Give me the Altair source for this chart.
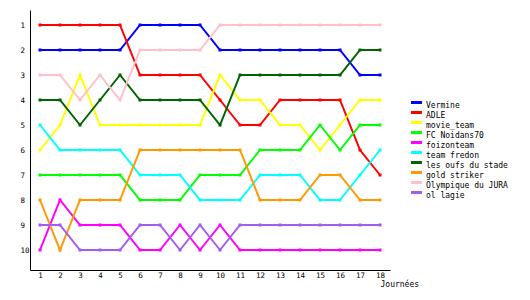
import altair as alt
import pandas as pd

days = list(range(1, 19))
teams = ["Vermine", "ADLE", "movie_team", "FC Noidans70", "foizonteam",
         "team fredon", "les oufs du stade", "gold striker", "Olympique du JURA", "ol lagie"]
colors = ["#0000FF", "#FF0000", "#FFFF00", "#00FF00", "#FF00FF",
          "#00FFFF", "#006400", "#FF9900", "#FFC0CB", "#A35CF0"]

vermine = [2, 2, 2, 2, 2, 1, 1, 1, 1, 2, 2, 2, 2, 2, 2, 2, 3, 3]
adle = [1, 1, 1, 1, 1, 3, 3, 3, 3, 4, 5, 5, 4, 4, 4, 4, 6, 7]
movie_team = [6, 5, 3, 5, 5, 5, 5, 5, 5, 3, 4, 4, 5, 5, 6, 5, 4, 4]
fc_noidans = [7, 7, 7, 7, 7, 8, 8, 8, 7, 7, 7, 6, 6, 6, 5, 6, 5, 5]
foizonteam = [10, 8, 9, 9, 9, 10, 10, 9, 10, 9, 10, 10, 10, 10, 10, 10, 10, 10]
team_fredon = [5, 6, 6, 6, 6, 7, 7, 7, 8, 8, 8, 7, 7, 7, 8, 8, 7, 6]
oufs_stade = [4, 4, 5, 4, 3, 4, 4, 4, 4, 5, 3, 3, 3, 3, 3, 3, 2, 2]
gold_striker = [8, 10, 8, 8, 8, 6, 6, 6, 6, 6, 6, 8, 8, 8, 7, 7, 8, 8]
olympique_jura = [3, 3, 4, 3, 4, 2, 2, 2, 2, 1, 1, 1, 1, 1, 1, 1, 1, 1]
ol_lagie = [9, 9, 10, 10, 10, 9, 9, 10, 9, 10, 9, 9, 9, 9, 9, 9, 9, 9]

series = [vermine, adle, movie_team, fc_noidans, foizonteam,
          team_fredon, oufs_stade, gold_striker, olympique_jura, ol_lagie]

rows = []
for i, (t, vals) in enumerate(zip(teams, series)):
    for d, v in zip(days, vals):
        rows.append({"team": t, "order": i, "day": d, "rank": v})
df = pd.DataFrame(rows)

FONT = "DejaVu Sans Mono"

x = alt.X("day:Q",
          scale=alt.Scale(domain=[0.5, 18.5], nice=False, zero=False),
          axis=alt.Axis(values=days, grid=False, ticks=False, tickSize=0,
                        domainColor="black", domainWidth=1,
                        labelFont=FONT, labelFontSize=7.5, labelColor="black",
                        labelPadding=1, labelFlush=False, labelOverlap=False,
                        labelBound=False,
                        title="Journées", titleFont=FONT, titleFontSize=8,
                        titleFontWeight="normal", titleColor="black",
                        titleAlign="left", titleBaseline="middle",
                        titleX=350, titleY=14.5, titleAnchor="start"))
y = alt.Y("rank:Q",
          scale=alt.Scale(domain=[0.4, 10.8], reverse=True, nice=False, zero=False),
          axis=alt.Axis(values=list(range(1, 11)), grid=False, ticks=False, tickSize=0,
                        domainColor="black", domainWidth=1,
                        labelFont=FONT, labelFontSize=7.5, labelColor="black",
                        labelAlign="left", labelPadding=10, labelFlush=False,
                        labelOverlap=False, labelBound=False, title=None))
color = alt.Color("team:N",
                  scale=alt.Scale(domain=teams, range=colors),
                  sort=teams,
                  legend=alt.Legend(title=None, orient="none", legendX=381, legendY=90.5,
                                    symbolType="M-1.7,-0.85H1.7", symbolStrokeWidth=3,
                                    symbolSize=49, symbolFillColor="transparent",
                                    labelFont=FONT, labelFontSize=8,
                                    labelColor="black", labelBaseline="middle",
                                    labelOffset=5, rowPadding=0, padding=0,
                                    clipHeight=10))

base = alt.Chart(df).encode(x=x, y=y, color=color)
lines = base.mark_line(strokeWidth=2).encode(order="day:Q", detail="team:N")
points = base.mark_point(shape="square", filled=True, size=9, opacity=1)

chart = alt.layer(lines, points).properties(
    width=360, height=260,
    autosize=alt.AutoSizeParams(type="none"),
    padding={"left": 30, "top": 10, "right": 140, "bottom": 30},
    background="white"
).configure_view(stroke=None).configure_axis(labelOverlap=False)

chart.save("out.html", embed_options={"renderer": "svg", "actions": False})
